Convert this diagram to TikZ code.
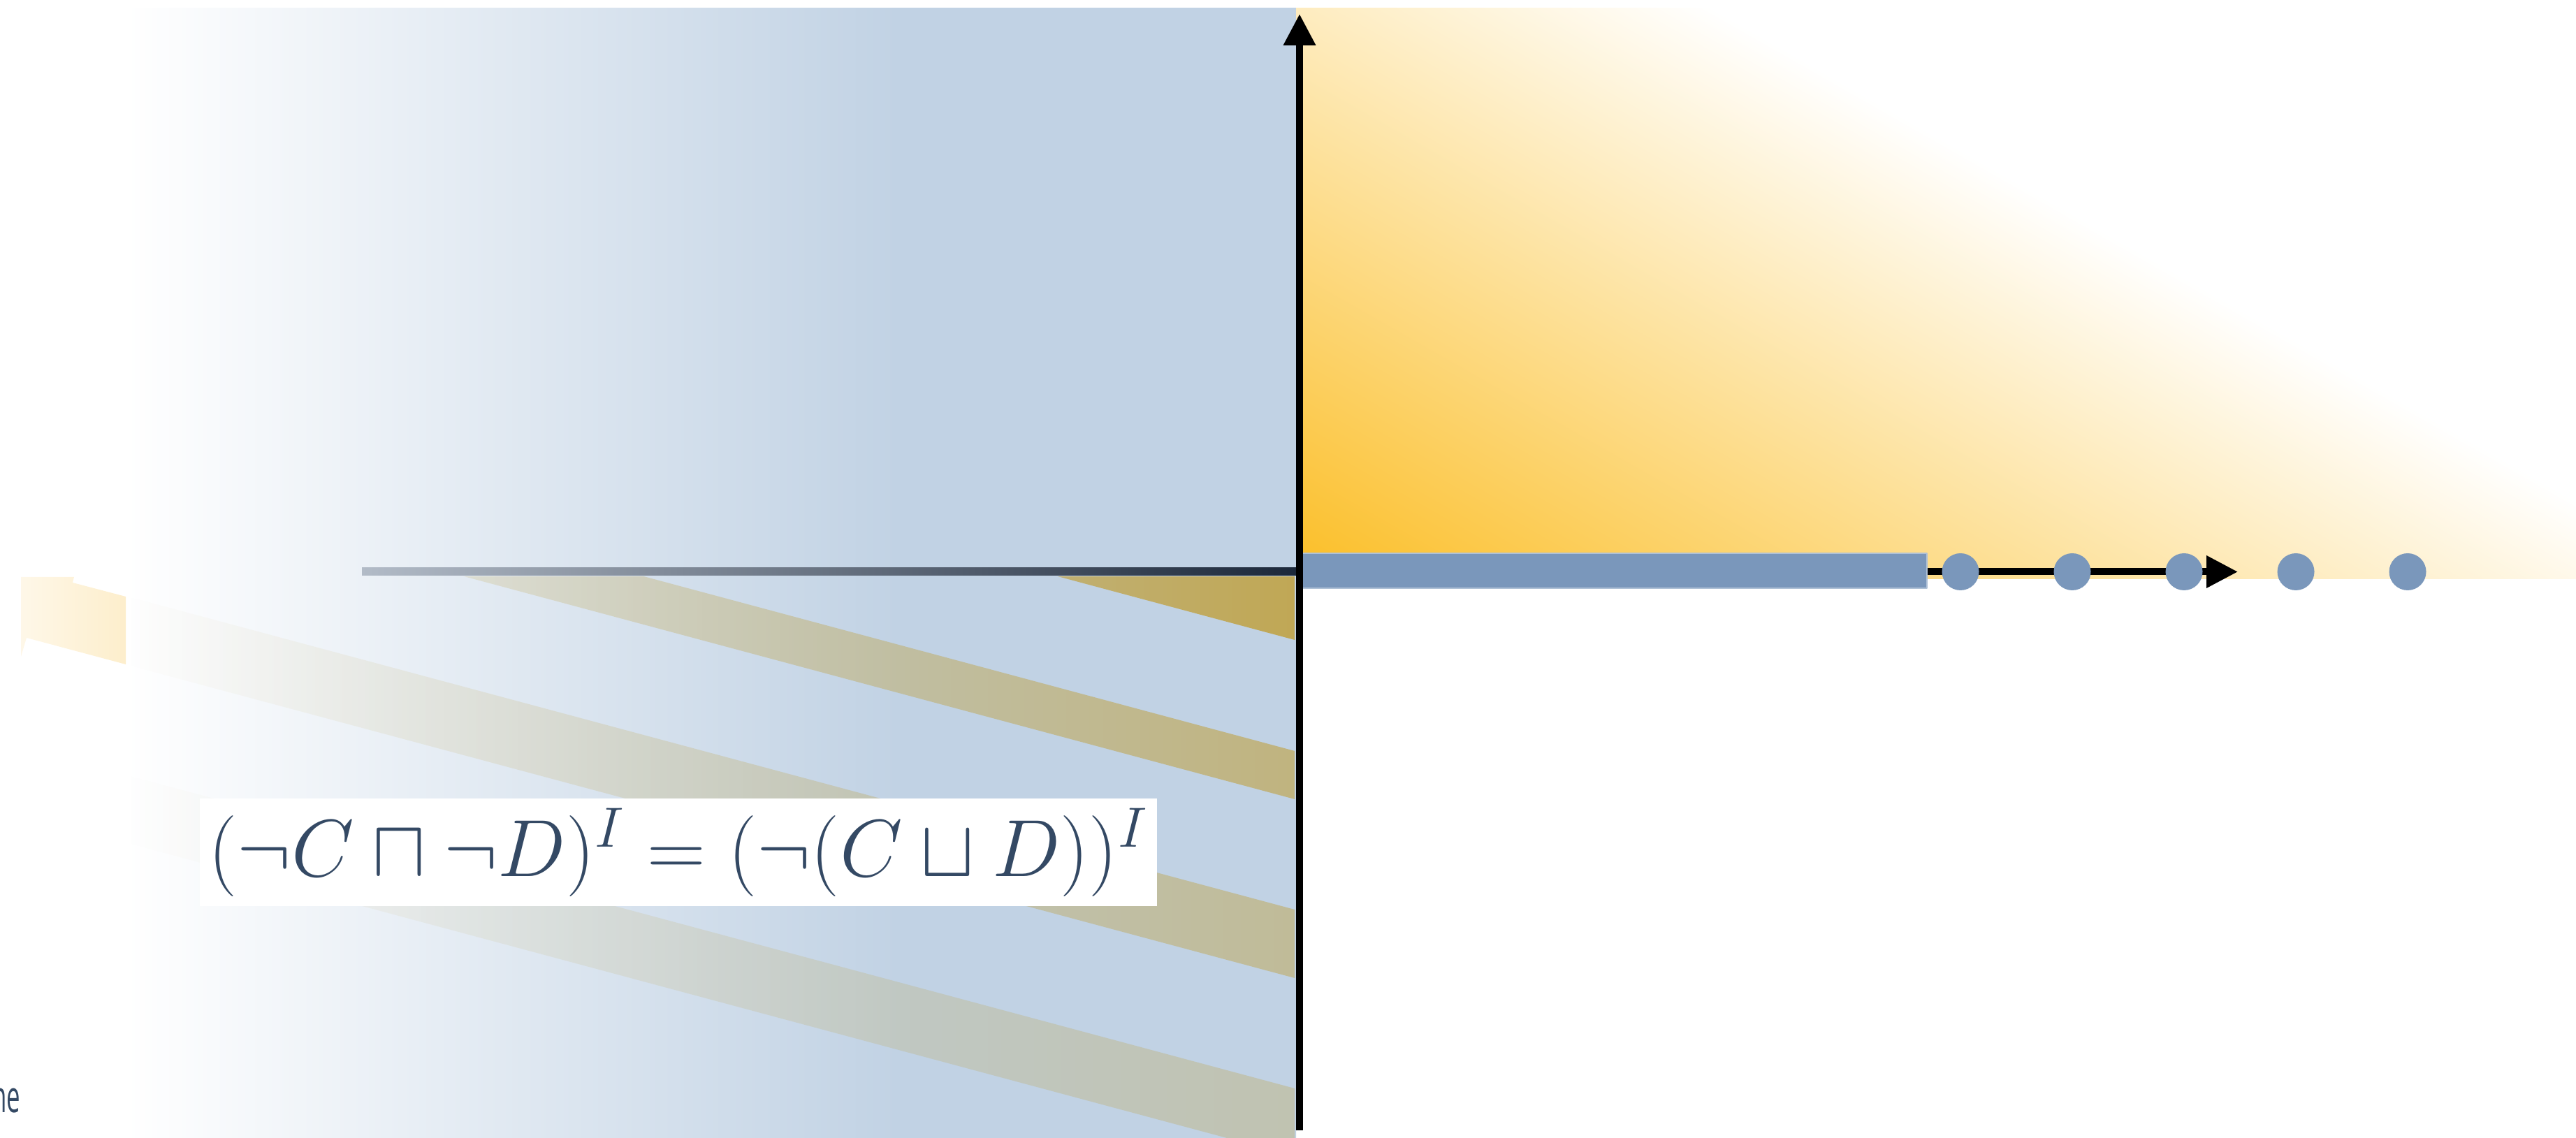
\RequirePackage{fix-cm}
\documentclass[tikz,border=0pt]{standalone}
\usepackage{fontspec}
\usepackage{graphicx}
\usepackage{tikz}
\usetikzlibrary{arrows.meta,calc,positioning,fadings}
\definecolor{panelblue}{RGB}{193,210,228}
\definecolor{barblue}{RGB}{122,151,187}
\definecolor{sunorange}{RGB}{251,190,38}
\definecolor{stripegold}{RGB}{192,160,60}
\definecolor{paleorange}{RGB}{253,238,204}
\definecolor{inkblue}{RGB}{52,73,100}
\definecolor{rulegray}{RGB}{178,187,199}
\definecolor{rulenavy}{RGB}{28,40,58}
\newfontfamily\slidesans{Open Sans}
\pgfdeclarehorizontalshading{panelfade}{100bp}
 {color(0bp)=(white); color(25bp)=(white); color(58bp)=(panelblue); color(100bp)=(panelblue)}
\tikzfading[name=stripefade,left color=transparent!100,middle color=transparent!75,
 right color=transparent!0]

\begin{document}
\begin{tikzpicture}[>={Triangle[length=4.5mm,width=4.4mm]},line join=round,
  axis/.style={->,line width=1mm,black},
  dot/.style={circle,fill=barblue,inner sep=0pt,minimum size=5.3mm}]
 \useasboundingbox (0,0) rectangle (36.87,16.28);
 \shade[shading=panelfade] (1.80,0) rectangle (18.55,16.16);
 \begin{scope}
  \clip (1.80,0) rectangle (18.55,8.02);
  \foreach \t/\b/\o in {8.09/7.12/.85,5.53/4.84/.6,3.26/2.28/.45,.70/-.27/.3}
   {\fill[stripegold,fill opacity=\o,path fading=stripefade]
     (1.80,\t+4.49) -- (18.55,\t) -- (18.55,\b) -- (1.80,\b+4.49) -- cycle;}
 \end{scope}
 \shade[left color=paleorange!45!white,right color=paleorange]
  (.30,8.02) -- (1.06,8.02) -- (1.04,7.94) -- (1.80,7.74) -- (1.80,6.77)
  -- (.38,7.15) -- (.30,6.88) -- cycle;
 \shade[left color=rulegray,right color=rulenavy] (5.18,8.04) rectangle (18.55,8.15);
 \begin{scope}
  \clip (18.55,7.99) rectangle (36.87,16.16);
  \begin{scope}[transform canvas={rotate around={-29.7:(18.65,7.99)}}]
   \shade[bottom color=sunorange,top color=white] (13.0,7.99) rectangle (36.0,17.99);
  \end{scope}
 \end{scope}
 \coordinate (origin) at (18.60,8.095);
 \coordinate (ybase) at (18.60,.10);
 \coordinate (ytip) at (18.60,16.08);
 \coordinate (xtip) at (32.03,8.095);
 \draw[axis] (origin) -- (xtip);
 \fill[barblue,draw=barblue!60!white,line width=.4pt] (18.63,7.86) rectangle (27.58,8.36);
 \draw[axis] (ybase) -- (ytip);
 \foreach \i/\x in {1/28.06,2/29.66,3/31.26,4/32.86,5/34.46}
  {\node[dot] (d\i) at (\x,8.095) {};}
 \node[fill=white,text=inkblue,inner sep=0pt,minimum width=13.70cm,minimum height=1.54cm]
  (formula) at (9.71,4.08)
  {\fontsize{33}{36}\selectfont$(\neg C \sqcap \neg D)^I = (\neg(C \sqcup D))^I$};
 \node[text=inkblue,anchor=base east,inner sep=0pt] (cut) at (.30,.36)
  {\scalebox{.55}[1]{\slidesans\fontsize{18}{20}\selectfont ne}};
\end{tikzpicture}
\end{document}
